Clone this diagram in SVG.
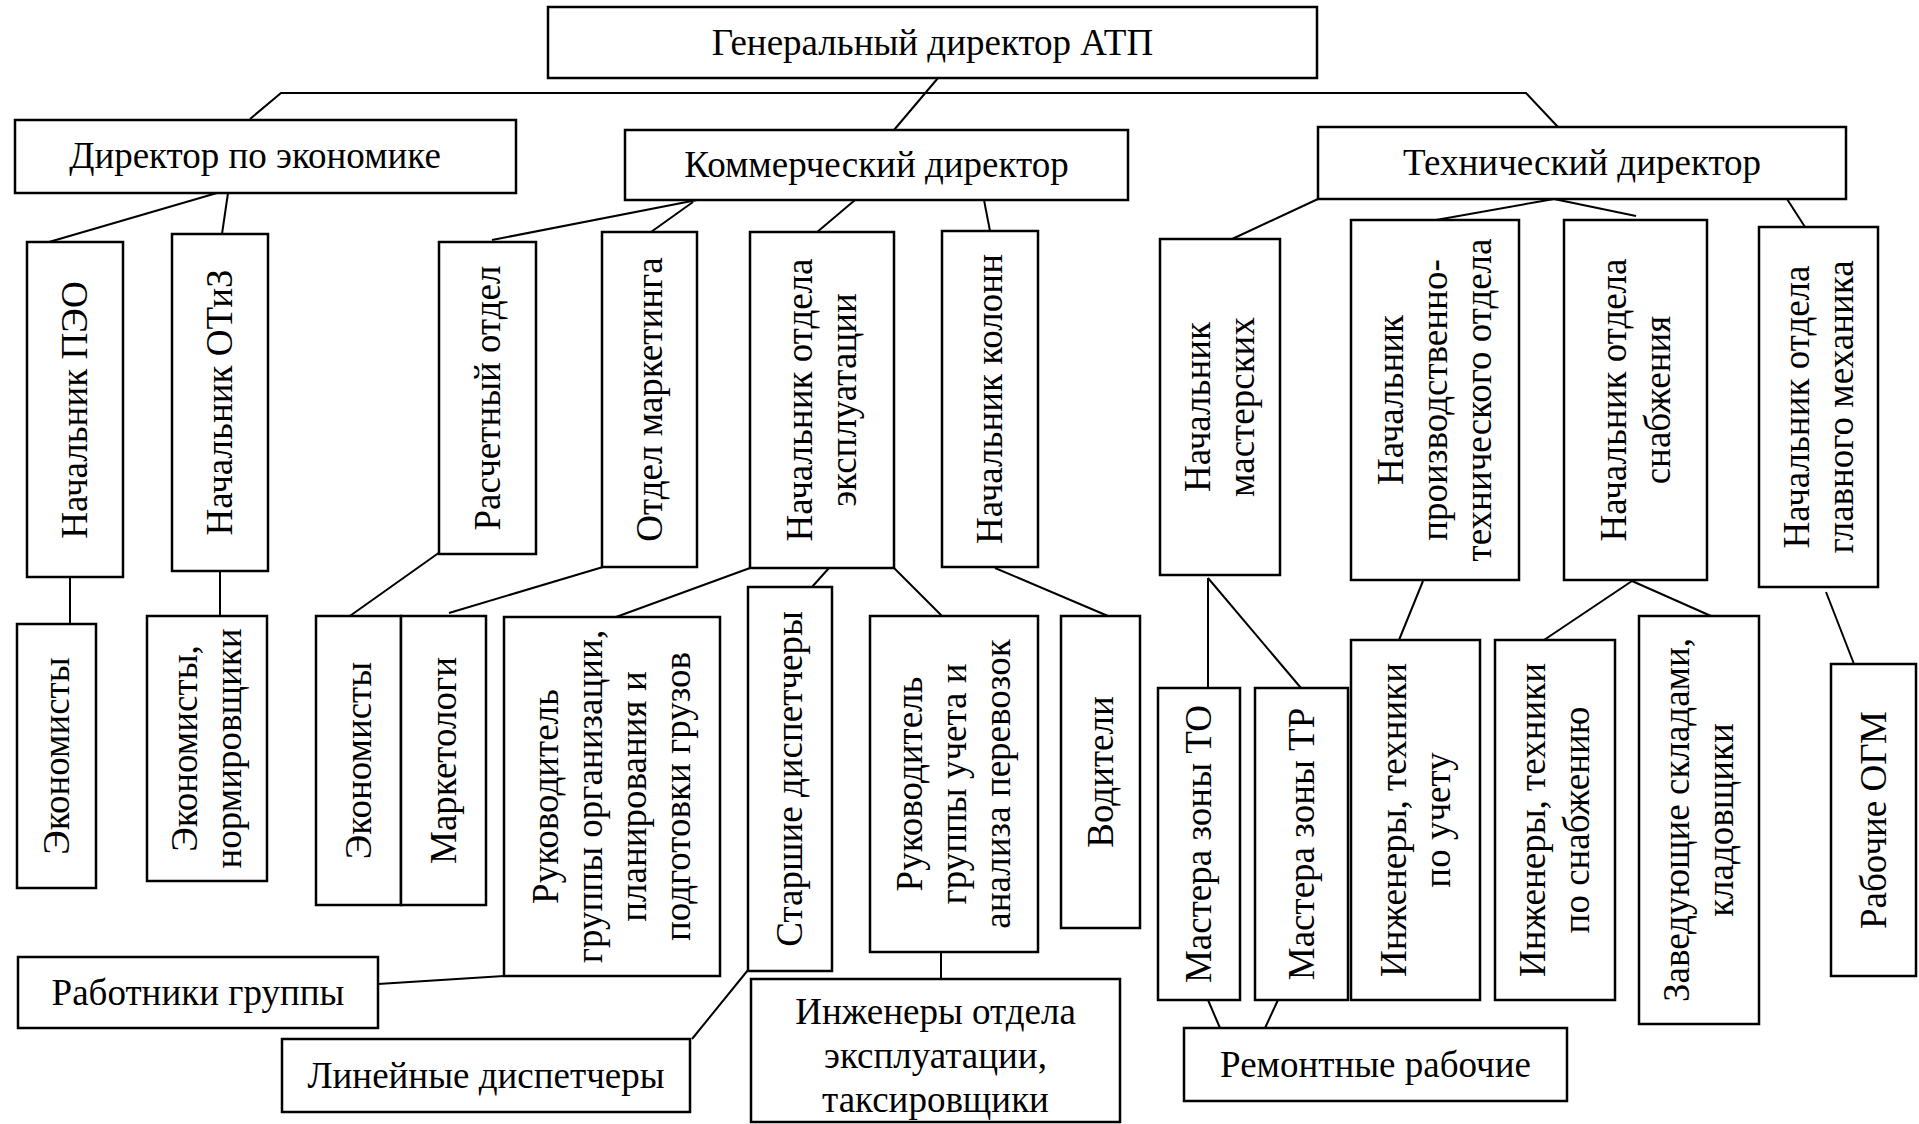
<svg xmlns="http://www.w3.org/2000/svg" width="1919" height="1124" viewBox="0 0 1919 1124">
<style>
.box{fill:#fff;stroke:#000;stroke-width:2.5}
.ln{stroke:#000;stroke-width:2;fill:none}
text{font-family:"Liberation Serif","Times New Roman",serif;font-size:37px;fill:#000;text-anchor:middle}
</style>
<rect width="1919" height="1124" fill="#fff"/>
<g id="connectors">
<polyline class="ln" points="250,119 281,93 1526,93 1558,127"/>
<line class="ln" x1="938" y1="78" x2="894" y2="130"/>
<line class="ln" x1="217" y1="193" x2="49" y2="242"/>
<line class="ln" x1="228" y1="193" x2="222" y2="234"/>
<line class="ln" x1="697" y1="200" x2="492" y2="240"/>
<line class="ln" x1="693" y1="202" x2="651" y2="232"/>
<line class="ln" x1="855" y1="200" x2="816" y2="233"/>
<line class="ln" x1="984" y1="200" x2="990" y2="231"/>
<line class="ln" x1="1318" y1="199" x2="1230" y2="240"/>
<line class="ln" x1="1554" y1="199" x2="1436" y2="220"/>
<line class="ln" x1="1554" y1="199" x2="1636" y2="216"/>
<line class="ln" x1="1787" y1="199" x2="1805" y2="227"/>
<line class="ln" x1="70" y1="577" x2="70" y2="624"/>
<line class="ln" x1="220" y1="571" x2="220" y2="616"/>
<line class="ln" x1="440" y1="552" x2="347" y2="618"/>
<line class="ln" x1="603" y1="567" x2="449" y2="613"/>
<line class="ln" x1="750" y1="568" x2="616" y2="617"/>
<line class="ln" x1="829" y1="568" x2="812" y2="587"/>
<line class="ln" x1="894" y1="568" x2="942" y2="616"/>
<line class="ln" x1="995" y1="568" x2="1108" y2="616"/>
<line class="ln" x1="378" y1="984" x2="504" y2="976"/>
<line class="ln" x1="748" y1="970" x2="692" y2="1039"/>
<line class="ln" x1="941" y1="952" x2="941" y2="979"/>
<line class="ln" x1="1208" y1="578" x2="1208" y2="688"/>
<line class="ln" x1="1208" y1="578" x2="1301" y2="688"/>
<line class="ln" x1="1208" y1="1000" x2="1220" y2="1028"/>
<line class="ln" x1="1278" y1="1000" x2="1265" y2="1028"/>
<line class="ln" x1="1423" y1="581" x2="1399" y2="640"/>
<line class="ln" x1="1632" y1="581" x2="1544" y2="640"/>
<line class="ln" x1="1632" y1="581" x2="1711" y2="616"/>
<line class="ln" x1="1826" y1="592" x2="1854" y2="664"/>
</g>
<g id="n-gen"><rect class="box" x="548" y="7" width="769" height="71"/><text x="932.5" y="55">Генеральный директор АТП</text></g>
<g id="n-econ"><rect class="box" x="15" y="120" width="501" height="73"/><text x="255" y="168">Директор по экономике</text></g>
<g id="n-comm"><rect class="box" x="625" y="130" width="503" height="70"/><text x="876.5" y="177">Коммерческий директор</text></g>
<g id="n-tech"><rect class="box" x="1318" y="127" width="528" height="72"/><text x="1582" y="175">Технический директор</text></g>

<g id="n-peo"><rect class="box" x="27" y="242" width="96" height="335"/><text transform="translate(75,410) rotate(-90)" y="12">Начальник ПЭО</text></g>
<g id="n-otiz"><rect class="box" x="172" y="234" width="96" height="337"/><text transform="translate(220,402.5) rotate(-90)" y="12">Начальник ОТиЗ</text></g>
<g id="n-rasch"><rect class="box" x="439" y="242" width="97" height="312"/><text transform="translate(487.5,398) rotate(-90)" y="12">Расчетный отдел</text></g>
<g id="n-mark"><rect class="box" x="602" y="232" width="95" height="335"/><text transform="translate(649.5,399.5) rotate(-90)" y="12">Отдел маркетинга</text></g>
<g id="n-expl"><rect class="box" x="750" y="232" width="144" height="336"/><text transform="translate(822,400) rotate(-90)"><tspan x="0" y="-10">Начальник отдела</tspan><tspan x="0" y="34">эксплуатации</tspan></text></g>
<g id="n-kolonn"><rect class="box" x="942" y="231" width="96" height="336"/><text transform="translate(990,399) rotate(-90)" y="12">Начальник колонн</text></g>
<g id="n-master"><rect class="box" x="1160" y="239" width="120" height="336"/><text transform="translate(1220,407) rotate(-90)"><tspan x="0" y="-10">Начальник</tspan><tspan x="0" y="34">мастерских</tspan></text></g>
<g id="n-pto"><rect class="box" x="1351" y="220" width="168" height="360"/><text transform="translate(1435,400) rotate(-90)"><tspan x="0" y="-32">Начальник</tspan><tspan x="0" y="12">производственно-</tspan><tspan x="0" y="56">технического отдела</tspan></text></g>
<g id="n-snab"><rect class="box" x="1564" y="220" width="143" height="360"/><text transform="translate(1635.5,400) rotate(-90)"><tspan x="0" y="-10">Начальник отдела</tspan><tspan x="0" y="34">снабжения</tspan></text></g>
<g id="n-ogm"><rect class="box" x="1759" y="227" width="119" height="360"/><text transform="translate(1818.5,407) rotate(-90)"><tspan x="0" y="-10">Начальник отдела</tspan><tspan x="0" y="34">главного механика</tspan></text></g>

<g id="n-econ1"><rect class="box" x="17" y="624" width="79" height="264"/><text transform="translate(56.5,756) rotate(-90)" y="12">Экономисты</text></g>
<g id="n-norm"><rect class="box" x="147" y="616" width="120" height="265"/><text transform="translate(207,748.5) rotate(-90)"><tspan x="0" y="-10">Экономисты,</tspan><tspan x="0" y="34">нормировщики</tspan></text></g>
<g id="n-econ2"><rect class="box" x="316" y="616" width="85" height="289"/><text transform="translate(358.5,760.5) rotate(-90)" y="12">Экономисты</text></g>
<g id="n-marketologi"><rect class="box" x="401" y="616" width="85" height="289"/><text transform="translate(443.5,760.5) rotate(-90)" y="12">Маркетологи</text></g>
<g id="n-ruk-org"><rect class="box" x="504" y="617" width="216" height="359"/><text transform="translate(612,796.5) rotate(-90)"><tspan x="0" y="-54">Руководитель</tspan><tspan x="0" y="-10">группы организации,</tspan><tspan x="0" y="34">планирования и</tspan><tspan x="0" y="78">подготовки грузов</tspan></text></g>
<g id="n-star-disp"><rect class="box" x="748" y="587" width="84" height="384"/><text transform="translate(790,779) rotate(-90)" y="12">Старшие диспетчеры</text></g>
<g id="n-ruk-uch"><rect class="box" x="870" y="616" width="168" height="336"/><text transform="translate(954,784) rotate(-90)"><tspan x="0" y="-32">Руководитель</tspan><tspan x="0" y="12">группы учета и</tspan><tspan x="0" y="56">анализа перевозок</tspan></text></g>
<g id="n-vod"><rect class="box" x="1061" y="616" width="79" height="312"/><text transform="translate(1100.5,772) rotate(-90)" y="12">Водители</text></g>
<g id="n-to"><rect class="box" x="1158" y="688" width="82" height="312"/><text transform="translate(1199,844) rotate(-90)" y="12">Мастера зоны ТО</text></g>
<g id="n-tr"><rect class="box" x="1255" y="688" width="93" height="312"/><text transform="translate(1301.5,844) rotate(-90)" y="12">Мастера зоны ТР</text></g>
<g id="n-ing-uch"><rect class="box" x="1351" y="640" width="129" height="360"/><text transform="translate(1415.5,820) rotate(-90)"><tspan x="0" y="-10">Инженеры, техники</tspan><tspan x="0" y="34">по учету</tspan></text></g>
<g id="n-ing-snab"><rect class="box" x="1495" y="640" width="120" height="360"/><text transform="translate(1555,820) rotate(-90)"><tspan x="0" y="-10">Инженеры, техники</tspan><tspan x="0" y="34">по снабжению</tspan></text></g>
<g id="n-sklad"><rect class="box" x="1639" y="616" width="120" height="408"/><text transform="translate(1699,820) rotate(-90)"><tspan x="0" y="-10">Заведующие складами,</tspan><tspan x="0" y="34">кладовщики</tspan></text></g>
<g id="n-rab-ogm"><rect class="box" x="1831" y="664" width="85" height="312"/><text transform="translate(1873.5,820) rotate(-90)" y="12">Рабочие ОГМ</text></g>

<g id="n-rab-gr"><rect class="box" x="18" y="957" width="360" height="71"/><text x="198" y="1005">Работники группы</text></g>
<g id="n-lin-disp"><rect class="box" x="282" y="1039" width="408" height="73"/><text x="486" y="1088">Линейные диспетчеры</text></g>
<g id="n-ing-expl"><rect class="box" x="751" y="979" width="369" height="143"/><text><tspan x="935.5" y="1024">Инженеры отдела</tspan><tspan x="935.5" y="1068">эксплуатации,</tspan><tspan x="935.5" y="1112">таксировщики</tspan></text></g>
<g id="n-rem"><rect class="box" x="1184" y="1028" width="383" height="73"/><text x="1375.5" y="1077">Ремонтные рабочие</text></g>
</svg>
